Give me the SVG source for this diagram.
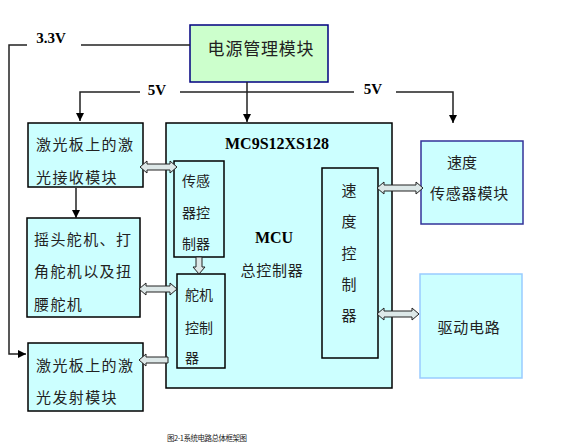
<svg xmlns="http://www.w3.org/2000/svg" width="561" height="446" viewBox="0 0 561 446">
<defs>
<marker id="ah" viewBox="0 0 10 10" refX="10" refY="5" markerWidth="8" markerHeight="8" markerUnits="userSpaceOnUse" orient="auto"><path d="M0,0 L10,5 L0,10 Z" fill="#000"/></marker>
<style>
.box{fill:#ccffff;stroke:#000;stroke-width:1.5}
.cn{font-family:"Noto Sans CJK SC","Noto Sans",sans-serif;fill:#222;dominant-baseline:central}
.big{font-size:15px;letter-spacing:1.4px}
.sm{font-size:14px}
.en{font-family:"Liberation Serif","Times New Roman",serif;font-weight:bold;fill:#000}
.wire{fill:none;stroke:#222;stroke-width:1.5}
.hol{fill:#dde8e8;stroke:#222;stroke-width:1}
</style>
</defs>
<rect width="561" height="446" fill="#fff"/>

<g id="power">
<rect x="190" y="25" width="138" height="57" fill="#ccffcc" stroke="#000080" stroke-width="1.5"/>
<text class="cn" x="261" y="47" font-size="17" text-anchor="middle" letter-spacing="0.8">电源管理模块</text>
</g>

<g id="laser-receive">
<rect class="box" x="28" y="123" width="115" height="64"/>
<text class="cn big" x="36" y="143">激光板上的激</text>
<text class="cn big" x="36" y="176">光接收模块</text>
</g>

<g id="servo">
<rect class="box" x="27" y="218" width="113" height="99"/>
<text class="cn big" x="34" y="238">摇头舵机、打</text>
<text class="cn big" x="34" y="270">角舵机以及扭</text>
<text class="cn big" x="34" y="303">腰舵机</text>
</g>

<g id="laser-emit">
<rect class="box" x="28" y="343" width="115" height="68"/>
<text class="cn big" x="36" y="364">激光板上的激</text>
<text class="cn big" x="36" y="396">光发射模块</text>
</g>

<g id="mcu">
<rect class="box" x="166" y="123" width="226" height="265"/>
<text class="en" x="277" y="149" font-size="16" text-anchor="middle">MC9S12XS128</text>
<text class="en" x="274" y="243" font-size="16" text-anchor="middle">MCU</text>
<text class="cn" x="272" y="269" font-size="15" text-anchor="middle" letter-spacing="0.8">总控制器</text>
</g>

<g id="sensor-ctrl">
<rect class="box" x="174" y="161" width="50" height="96"/>
<text class="cn sm" x="182" y="180">传感</text>
<text class="cn sm" x="182" y="212">器控</text>
<text class="cn sm" x="182" y="243">制器</text>
</g>

<g id="servo-ctrl">
<rect class="box" x="177" y="274" width="48" height="94"/>
<text class="cn sm" x="185" y="294">舵机</text>
<text class="cn sm" x="185" y="327">控制</text>
<text class="cn sm" x="185" y="357">器</text>
</g>

<g id="speed-ctrl">
<rect class="box" x="322" y="168" width="56" height="190"/>
<text class="cn" x="349" y="189" font-size="15" text-anchor="middle">速</text>
<text class="cn" x="349" y="220" font-size="15" text-anchor="middle">度</text>
<text class="cn" x="349" y="252" font-size="15" text-anchor="middle">控</text>
<text class="cn" x="349" y="283" font-size="15" text-anchor="middle">制</text>
<text class="cn" x="349" y="314" font-size="15" text-anchor="middle">器</text>
</g>

<g id="speed-sensor">
<rect x="421" y="141" width="102" height="83" fill="#ccffff" stroke="#333399" stroke-width="1.5"/>
<text class="cn" x="447" y="161" font-size="15">速度</text>
<text class="cn" x="430" y="192" font-size="15" letter-spacing="0.8">传感器模块</text>
</g>

<g id="drive">
<rect x="420" y="274" width="102" height="104" fill="#ccffff" stroke="#99ccff" stroke-width="1.5"/>
<text class="cn" x="469" y="326" font-size="15" text-anchor="middle" letter-spacing="0.8">驱动电路</text>
</g>

<g id="connectors">
<polyline class="wire" points="190,45 81,45"/>
<polyline class="wire" points="27,45 9,45 9,354 26,354" marker-end="url(#ah)"/>
<polyline class="wire" points="140,92 80,92 80,121" marker-end="url(#ah)"/>
<polyline class="wire" points="180,92 354,92"/>
<polyline class="wire" points="396,92 453,92 453,123" marker-end="url(#ah)"/>
<line class="wire" x1="247" y1="82" x2="247" y2="122" marker-end="url(#ah)"/>
<line class="wire" x1="76" y1="188" x2="76" y2="218" marker-end="url(#ah)"/>
<path class="hol" d="M140,167 L147,161 L147,164 L170,164 L170,161 L177,167 L170,173 L170,170 L147,170 L147,173 Z"/>
<path class="hol" d="M139,289 L146,283 L146,286 L170,286 L170,283 L177,289 L170,295 L170,292 L146,292 L146,295 Z"/>
<path class="hol" d="M139,360 L146,354 L146,357 L168,357 L168,363 L146,363 L146,366 Z"/>
<path class="hol" d="M377,188 L384,182 L384,185 L416,185 L416,182 L423,188 L416,194 L416,191 L384,191 L384,194 Z"/>
<path class="hol" d="M377,314 L384,308 L384,311 L412,311 L412,308 L419,314 L412,320 L412,317 L384,317 L384,320 Z"/>
<path class="hol" d="M196,257 L202,257 L202,267 L205,267 L199,274 L193,267 L196,267 Z"/>
<text class="en" x="51" y="43" font-size="15" text-anchor="middle">3.3V</text>
<text class="en" x="157" y="95" font-size="15" text-anchor="middle">5V</text>
<text class="en" x="373" y="94" font-size="15" text-anchor="middle">5V</text>
</g>

<text class="cn" x="167" y="437" font-size="7.5" textLength="80" lengthAdjust="spacing">图2-1系统电路总体框架图</text>
</svg>
